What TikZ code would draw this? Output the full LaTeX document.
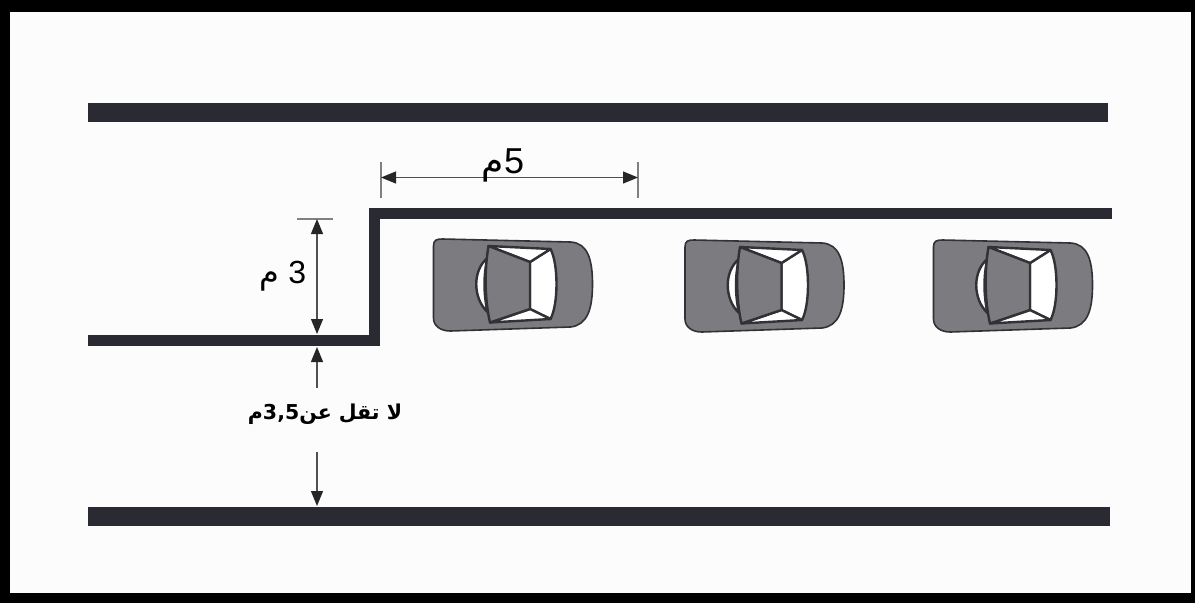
\documentclass[tikz,border=0pt]{standalone}
\usepackage{fontspec}
\setmainfont{Liberation Sans}
\newfontfamily\arabicfont[Script=Arabic]{DejaVu Sans}
\TeXXeTstate=1
\usetikzlibrary{arrows.meta,calc}

\definecolor{roadline}{HTML}{2A2A32}
\definecolor{carbody}{HTML}{7C7C80}
\definecolor{carline}{HTML}{323236}
\definecolor{dimline}{HTML}{505050}
\definecolor{paper}{HTML}{FCFCFC}

\tikzset{
  road/.style={draw=roadline, line width=19, line cap=butt},
  kerb/.style={draw=roadline, line width=11, line cap=butt, line join=miter},
  dimarrow/.style={draw=dimline, line width=1.2,
    -{Triangle[length=15,width=12,fill=black!85,color=black!85]}},
  dimtick/.style={draw=black!50, line width=1.2},
  glass/.style={fill=white, draw=carline, line width=2.4, line join=round},
  carTop/.pic={
    % body
    \filldraw[fill=carbody, draw=carline, line width=1.6]
      (-79,-38) .. controls (-79,-44) and (-76,-45) .. (-70,-45)
      -- (58,-42) .. controls (75,-41) and (80,-25) .. (80,0)
      .. controls (80,25) and (75,41) .. (58,43)
      -- (-62,47) .. controls (-72,47) and (-79,42) .. (-79,34) -- cycle;
    % windscreen and side windows
    \filldraw[glass] (17.5,-22) -- (38,-35) .. controls (46,-20) and (46,20) .. (38,35) -- (17.5,25) -- cycle;
    \filldraw[glass] (-24,-38) -- (38,-35) -- (17.5,-22) -- cycle;
    \filldraw[glass] (-22.5,38.5) -- (38,35) -- (17.5,25) -- cycle;
    % rear window
    \filldraw[glass] (-25,-26) .. controls (-40,-14) and (-40,14) .. (-25,28)
      .. controls (-29,10) and (-29,-10) .. cycle;
    % roof
    \filldraw[fill=carbody, draw=carline, line width=2.4, line join=round]
      (-24,-38) -- (17.5,-22) -- (17.5,25) -- (-22.5,38.5)
      .. controls (-28,15) and (-28,-15) .. cycle;
  }
}

\begin{document}
\begin{tikzpicture}[x=1pt, y=-1pt]
  % frame
  \fill[black] (0,0) rectangle (1195,603);
  \fill[paper] (10,12) rectangle (1191,593);
  \useasboundingbox (0,0) rectangle (1195,603);

  % road edges
  \coordinate (topL) at (88,112.5);
  \coordinate (topR) at (1108,112.5);
  \coordinate (botL) at (88,516);
  \coordinate (botR) at (1110,516);
  \coordinate (kerbL) at (88,340);
  \coordinate (kerbStepLow) at (374,340);
  \coordinate (kerbStepHigh) at (374,213);
  \coordinate (kerbR) at (1112,213);

  \draw[road] (topL) -- (topR);
  \draw[road] (botL) -- (botR);
  \draw[kerb] (kerbL) -- (kerbStepLow) -- (kerbStepHigh) -- (kerbR);

  % parked cars
  \pic (carA) at (512.5,284) {carTop};
  \pic (carB) at (764,285) {carTop};
  \pic (carC) at (1012.5,285) {carTop};

  % bay length: 5 m
  \coordinate (lenL) at (381,177.5);
  \coordinate (lenR) at (638,177.5);
  \coordinate (lenMid) at ($(lenL)!0.5!(lenR)$);
  \draw[dimtick] (381,162) -- (381,198);
  \draw[dimtick] (638,162) -- (638,198);
  \draw[dimarrow] (lenMid) -- (lenL);
  \draw[dimarrow] (lenMid) -- (lenR);
  \node[anchor=base, font=\fontsize{36}{40}\selectfont, inner sep=0] (lenLabel) at (503,173)
    {\beginR 5{\arabicfont م}\endR};

  % bay depth: 3 m
  \coordinate (depTop) at (317,219);
  \coordinate (depBot) at (317,334);
  \coordinate (depMid) at ($(depTop)!0.5!(depBot)$);
  \draw[dimtick] (297,219) -- (333,219);
  \draw[dimarrow] (depMid) -- (depTop);
  \draw[dimarrow] (depMid) -- (depBot);
  \node[anchor=base, font=\fontsize{32}{36}\selectfont, inner sep=0] (depLabel) at (283,283)
    {\beginR 3 {\arabicfont م}\endR};

  % lane width: not less than 3.5 m
  \coordinate (laneTop) at (317,347);
  \coordinate (laneBot) at (317,506);
  \coordinate (gapTop) at (317,388);
  \coordinate (gapBot) at (317,452);
  \draw[dimarrow] (gapTop) -- (laneTop);
  \draw[dimarrow] (gapBot) -- (laneBot);
  \node[font=\arabicfont\bfseries\fontsize{20.5}{24}\selectfont, inner sep=0] (laneLabel) at (325,414)
    {\beginR لا تقل عن\beginL 3,5\endL م\endR};
\end{tikzpicture}
\end{document}
